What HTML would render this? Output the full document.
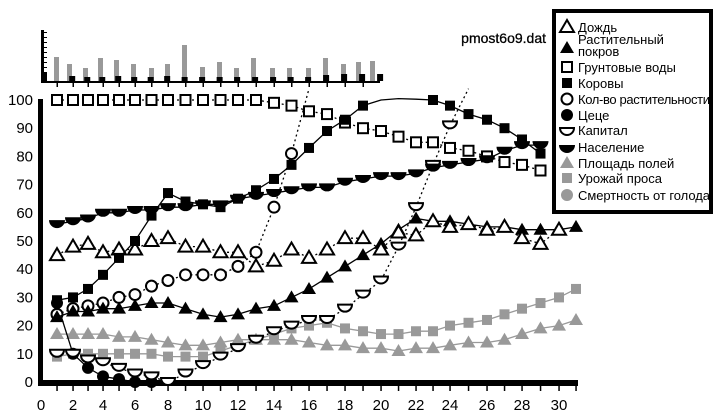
<!DOCTYPE html>
<html><head><meta charset="utf-8">
<style>
html,body{margin:0;padding:0;background:#fff;}
svg{display:block;font-family:"Liberation Sans","DejaVu Sans",sans-serif;}
</style></head>
<body>
<svg id="s" width="719" height="419" xmlns="http://www.w3.org/2000/svg"></svg>
<script>
var S=document.getElementById('s');var h='';
var XL=[[0,41],[2,73],[4,103],[6,135],[8,168],[10,203],[12,238],[14,274],[16,309],[18,345],[20,381],[22,416],[24,450],[26,487],[28,522],[30,559],[31,576]];
function X(v){for(var i=0;i<XL.length-1;i++){var a=XL[i],b=XL[i+1];if(v<=b[0]||i==XL.length-2)return a[1]+(v-a[0])*(b[1]-a[1])/(b[0]-a[0]);}}
function Y(v){return 382-2.82*v;}
// top bar chart
h+='<rect x="41" y="30" width="3" height="53" fill="#000"/>';
for(var i=0;i<10;i++)h+='<rect x="44" y="'+(32+i*5)+'" width="3" height="1" fill="#000"/>';
h+='<rect x="41" y="81" width="339" height="2" fill="#000"/>';
var gx=[56,69,85,100,116,133,151,167,184,202,219,236,253,272,289,308,325,343,358,372];
var gt=[57,64,68,58,60,64,68,64,45,67,62,68,58,68,68,68,58,64,62,61];
for(var i=0;i<gx.length;i++)h+='<rect x="'+(gx[i]-2)+'" y="'+gt[i]+'" width="5" height="'+(81-gt[i])+'" fill="#999"/>';
var bt=[73,76,77,77,76,77,77,76,77,77,77,77,77,77,77,77,75,74,74,74,77,75];
for(var i=0;i<20;i++){var bx=i==0?44:X(i+0.95);h+='<rect x="'+(bx-3)+'" y="'+bt[i]+'" width="6" height="'+(81-bt[i])+'" fill="#000"/>';}
for(var i=1;i<20;i++){var tx=X(i);h+='<rect x="'+(tx-0.5)+'" y="83" width="1.5" height="4" fill="#000"/>';}
// main axes
h+='<rect x="38" y="99" width="5" height="287" fill="#000"/>';
h+='<rect x="38" y="380" width="540" height="6" fill="#000"/>';
for(var v=0;v<=100;v+=10){h+='<text x="33" y="'+(Y(v)+5)+'" font-size="15" text-anchor="end">'+v+'</text>';}
for(var i=1;i<=31;i++){h+='<rect x="'+(X(i)-0.7)+'" y="386" width="1.5" height="5" fill="#000"/>';}
for(var i=0;i<=30;i+=2){h+='<text x="'+X(i)+'" y="410" font-size="15" text-anchor="middle">'+i+'</text>';}
function pts(d){return d.map(function(p){return X(p[0]).toFixed(1)+','+Y(p[1]).toFixed(1)}).join(' ');}
function line(d,c,dash,w){h+='<polyline points="'+pts(d)+'" fill="none" stroke="'+c+'" stroke-width="'+(w||1.3)+'"'+(dash?' stroke-dasharray="2,3"':'')+'/>';}
function seq(a,s){return a.map(function(v,i){return [i+(s||1),v];});}
function mk(t,x,y,c){
 if(t=='ot')h+='<polygon points="'+x+','+(y-7)+' '+(x-7)+','+(y+5)+' '+(x+7)+','+(y+5)+'" fill="#fff" stroke="'+c+'" stroke-width="2"/>';
 if(t=='ft')h+='<polygon points="'+x+','+(y-7)+' '+(x-7)+','+(y+5)+' '+(x+7)+','+(y+5)+'" fill="'+c+'"/>';
 if(t=='os')h+='<rect x="'+(x-5)+'" y="'+(y-5)+'" width="10" height="10" fill="#fff" stroke="'+c+'" stroke-width="2"/>';
 if(t=='fs')h+='<rect x="'+(x-5)+'" y="'+(y-5)+'" width="10" height="10" fill="'+c+'"/>';
 if(t=='oc')h+='<circle cx="'+x+'" cy="'+y+'" r="5.5" fill="#fff" stroke="'+c+'" stroke-width="2"/>';
 if(t=='fc')h+='<circle cx="'+x+'" cy="'+y+'" r="6" fill="'+c+'"/>';
 if(t=='oh')h+='<path d="M'+(x-7)+','+(y-4)+' L'+(x+7)+','+(y-4)+' A7,7 0 0 1 '+(x-7)+','+(y-4)+' Z" fill="#fff" stroke="'+c+'" stroke-width="2"/>';
 if(t=='fh')h+='<path d="M'+(x-8)+','+(y-4)+' L'+(x+8)+','+(y-4)+' A8,8 0 0 1 '+(x-8)+','+(y-4)+' Z" fill="'+c+'"/>';
}
function ser(d,t,c,dash,ext){line(ext||d,c,dash);d.forEach(function(p){mk(t,X(p[0]),Y(p[1]),c);});}
var G='#999';
ser(seq([17,17,17,17,16,16,15,14,13,13,14,15,15,15,15,14,13,13,12,12,11,12,12,13,14,14,15,17,19,20,22]),'ft',G);
ser(seq([9,10,10,10,10,10,10,9,9,9,11,13,15,17,19,20,21,19,18,17,17,18,18,20,21,22,24,26,28,30,33]),'fs',G);
ser(seq([28,10,5,2,1,0,0]),'fc','#000');
ser(seq([10,10,8,7,5,3,2,0,3,6,9,12,15,18,20,22,22,26,31,36,48,62,77,91]),'oh','#000',true,seq([10,10,8,7,5,3,2,0,3,6,9,12,15,18,20,22,22,26,31,36,48,62,77,91,104]));
ser(seq([24,26,27,28,30,31,34,36,38,38,38,41,46,62,81]),'oc','#000',true,seq([24,26,27,28,30,31,34,36,38,38,38,41,46,62,81,104]));
ser(seq([23,25,25,26,26,27,28,28,26,24,23,24,26,27,30,33,37,41,45,49,54,58,57,57,56,55,55,54,54,54,55]),'ft','#000');
ser(seq([45,48,49,46,47,47,50,51,48,48,46,46,41,43,47,44,47,51,51,47,53,52,57,55,56,54,55,51,49,54]),'ot','#000',true);
ser(seq([100,100,100,100,100,100,100,100,100,100,100,100,100,99,98,96,95,92,90,89,87,85,85,83,82,80,78,77,75]),'os','#000',true);
var cows=[[1,29],[2,30],[3,33],[4,38],[5,44],[6,50],[7,59],[8,67],[9,64],[10,63],[11,62],[12,65],[13,68],[14,72],[15,77],[16,83],[17,89],[18,93],[19,98],[23,100],[24,98],[25,95],[26,93],[27,90],[28,86],[29,81]];
var cl=cows.slice(0,19).concat([[20,100],[21,100.5],[22,100.3]]).concat(cows.slice(19));
ser(cows,'fs','#000',false,cl);
ser(seq([56,57,58,60,60,61,61,62,62,63,63,65,66,67,68,69,69,71,72,73,73,74,76,77,78,79,82,84,84]),'fh','#000');
// legend
h+='<rect x="554" y="11" width="157" height="201" fill="#fff" stroke="#000" stroke-width="4"/>';
h+='<text x="546" y="43" font-size="14" text-anchor="end" stroke="#000" stroke-width="0.3">pmost6o9.dat</text>';
var L=[['ot','Дождь',27,'#000'],['ft','',48,'#000'],['os','Грунтовые воды',67,'#000'],['fs','Коровы',83,'#000'],['oc','Кол-во растительности',99,'#000'],['fc','Цеце',115,'#000'],['oh','Капитал',130,'#000'],['fh','Население',147,'#000'],['ft','Площадь полей',163,G],['fs','Урожай проса',178,G],['fc','Смертность от голода',195,G]];
L.forEach(function(l){mk(l[0],567,l[2]+(l[0]=='oh'||l[0]=='fh'?2:0),l[3]);if(l[1])h+='<text x="578" y="'+(l[2]+5)+'" font-size="13" textLength="'+(l[1].length>15?132:0)+'"'+'>'+l[1]+'</text>';});
h=h.replace(/ textLength="0"/g,'');
h+='<text x="578" y="44" font-size="13">Растительный</text><text x="578" y="56" font-size="13">покров</text>';
S.innerHTML=h;
</script>
</body></html>
